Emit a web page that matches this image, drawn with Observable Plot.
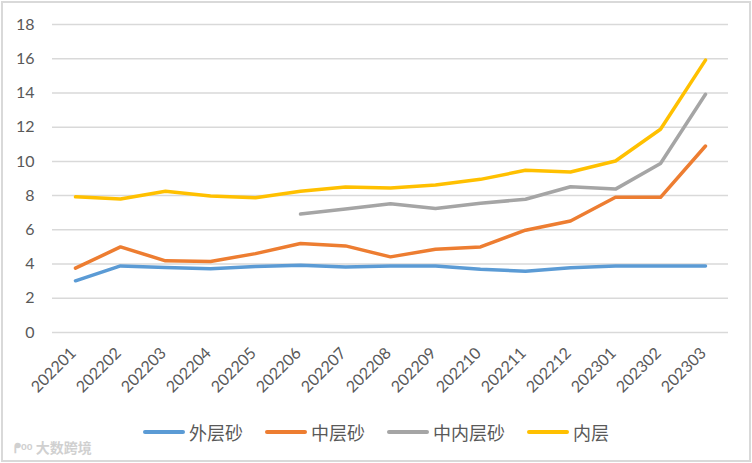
<!DOCTYPE html>
<html>
<head>
<meta charset="utf-8">
<script src="https://cdn.jsdelivr.net/npm/d3@7"></script>
<script src="https://cdn.jsdelivr.net/npm/@observablehq/plot@0.6"></script>
<style>
  html, body { margin: 0; padding: 0; background: #fff; }
  #wrap { position: relative; width: 752px; height: 463px; overflow: hidden; background: #fff; font-family: Lato, "Noto Sans", sans-serif; }
  #frame { position: absolute; left: 1px; top: 1px; border: 2px solid #d9d9d9; box-sizing: border-box; width: 750px; height: 461px; pointer-events: none; }
  #chart { position: absolute; left: 0; top: 0; }
  #legend { position: absolute; left: 0; width: 752px; top: 419px; display: flex; justify-content: center; align-items: center; gap: 22px; font-family: "Noto Sans CJK SC", sans-serif; font-size: 18px; color: #595959; }
  .item { display: flex; align-items: center; gap: 4px; }
  .sw { width: 42px; height: 4px; border-radius: 2px; }
  #wm { position: absolute; left: 14px; top: 437px; font-family: "Noto Sans CJK SC", sans-serif; font-size: 14px; color: #d0d0d0; font-weight: bold; }
</style>
</head>
<body>
<div id="wrap">
  <div id="chart"></div>
  <div id="legend"></div>
  <div id="wm">ᖰᵒᵒ 大数跨境</div>
  <div id="frame"></div>
</div>
<script>
const months = ["202201","202202","202203","202204","202205","202206","202207","202208","202209","202210","202211","202212","202301","202302","202303"];
const seriesNames = ["外层砂","中层砂","中内层砂","内层"];
const seriesColors = ["#5B9BD5","#ED7D31","#A5A5A5","#FFC000"];
const outerSand = [3.02,3.89,3.8,3.73,3.86,3.93,3.83,3.88,3.88,3.7,3.58,3.78,3.88,3.88,3.88];
const middleSand = [3.76,5.0,4.19,4.15,4.61,5.2,5.06,4.42,4.87,5.0,5.98,6.52,7.9,7.9,10.9];
const midInnerSand = [null,null,null,null,null,6.92,7.22,7.53,7.25,7.55,7.79,8.52,8.38,9.88,13.92];
const innerLayer = [7.93,7.8,8.25,7.98,7.88,8.25,8.5,8.45,8.62,8.95,9.48,9.38,10.02,11.88,15.92];
const yTicks = [0,2,4,6,8,10,12,14,16,18];

const allSeries = [outerSand, middleSand, midInnerSand, innerLayer];
const data = [];
allSeries.forEach((vals, si) => {
  vals.forEach((v, i) => {
    if (v != null) data.push({month: months[i], value: v, series: seriesNames[si]});
  });
});

const chart = Plot.plot({
  width: 752,
  height: 410,
  marginTop: 24,
  marginBottom: 78,
  marginLeft: 52,
  marginRight: 24,
  style: { fontFamily: "Lato, 'Noto Sans', sans-serif", fontSize: "16px", color: "#595959", background: "transparent" },
  x: { type: "point", domain: months, padding: 0.5, label: null },
  y: { domain: [0, 18], ticks: yTicks, label: null },
  color: { domain: seriesNames, range: seriesColors },
  marks: [
    Plot.gridY(yTicks, { stroke: "#d9d9d9", strokeOpacity: 1, strokeWidth: 1.5 }),
    Plot.axisY(yTicks, { tickSize: 0, tickPadding: 18, fill: "#595959", label: null }),
    Plot.axisX({ tickSize: 0, tickRotate: -45, tickPadding: 18, dx: -2, fill: "#595959", label: null }),
    Plot.line(data, { x: "month", y: "value", z: "series", stroke: "series", strokeWidth: 3.5, strokeLinejoin: "round", strokeLinecap: "round" })
  ]
});
document.getElementById("chart").appendChild(chart);

const legend = document.getElementById("legend");
seriesNames.forEach((name, i) => {
  const item = document.createElement("div");
  item.className = "item";
  const sw = document.createElement("div");
  sw.className = "sw";
  sw.style.background = seriesColors[i];
  const label = document.createElement("span");
  label.textContent = name;
  item.appendChild(sw);
  item.appendChild(label);
  legend.appendChild(item);
});
</script>
</body>
</html>
